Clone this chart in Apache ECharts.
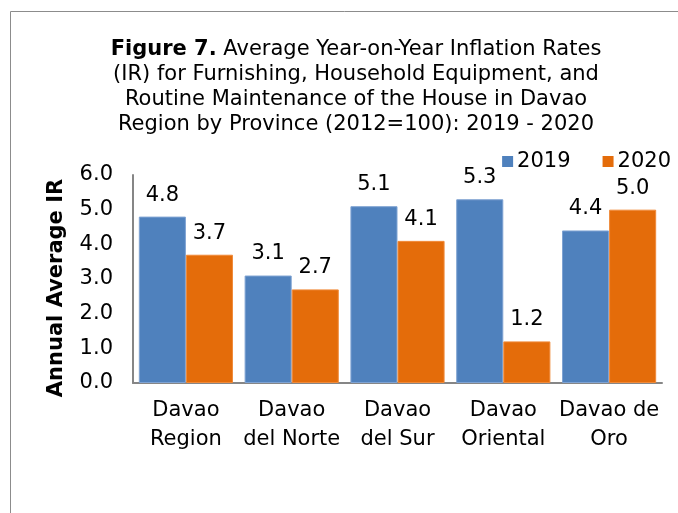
<!DOCTYPE html>
<html>
<head>
<meta charset="utf-8">
<script src="https://cdn.jsdelivr.net/npm/echarts@6/dist/echarts.min.js"></script>
<style>
  html, body { margin: 0; padding: 0; background: #fff; }
  #chart { width: 678px; height: 513px; }
</style>
</head>
<body>
<div id="chart"></div>
<script>
var categories = ['Davao\nRegion', 'Davao\ndel Norte', 'Davao\ndel Sur', 'Davao\nOriental', 'Davao de\nOro'];
var values2019 = [4.8, 3.1, 5.1, 5.3, 4.4];
var values2020 = [3.7, 2.7, 4.1, 1.2, 5.0];
var seriesNames = ['2019', '2020'];

var FONT = '"DejaVu Sans", "Liberation Sans", sans-serif';
var chart = echarts.init(document.getElementById('chart'));

var labelStyle = {
  show: true,
  position: 'top',
  distance: 11,
  fontFamily: FONT,
  fontSize: 21,
  color: '#000',
  formatter: function (p) { return p.value.toFixed(1); }
};

var option = {
  animation: false,
  textStyle: { fontFamily: FONT },
  graphic: [{
    type: 'rect',
    shape: { x: 10.5, y: 11.5, width: 720, height: 560 },
    style: { fill: 'none', stroke: '#8c8c8c', lineWidth: 1 }
  }],
  title: {
    text: '{b|Figure 7.} Average Year-on-Year Inflation Rates\n(IR) for Furnishing, Household Equipment, and\nRoutine Maintenance of the House in Davao\nRegion by Province (2012=100): 2019 - 2020',
    left: 351,
    top: 32,
    textAlign: 'center',
    textStyle: {
      fontFamily: FONT,
      fontSize: 21,
      fontWeight: 'normal',
      color: '#000',
      lineHeight: 25,
      rich: {
        b: { fontFamily: FONT, fontSize: 21, fontWeight: 'bold', color: '#000', lineHeight: 25 }
      }
    }
  },
  legend: {
    data: seriesNames,
    right: 2,
    top: 146,
    itemWidth: 11,
    itemHeight: 11,
    itemGap: 32,
    icon: 'rect',
    itemStyle: { borderWidth: 0 },
    textStyle: { fontFamily: FONT, fontSize: 21, color: '#000', padding: [0, 0, 0, -1] }
  },
  grid: { left: 133, right: 16, top: 175, bottom: 130 },
  xAxis: {
    type: 'category',
    data: categories,
    axisLine: { lineStyle: { color: '#868686', width: 2 } },
    axisTick: { show: false },
    axisLabel: { fontFamily: FONT, fontSize: 21, color: '#000', lineHeight: 29, margin: 13, interval: 0 }
  },
  yAxis: {
    type: 'value',
    min: 0,
    max: 6,
    interval: 1,
    name: 'Annual Average IR',
    nameLocation: 'middle',
    nameGap: 66,
    nameTextStyle: { fontFamily: FONT, fontSize: 21, fontWeight: 'bold', color: '#000', padding: [0, 18, 0, 0] },
    axisLine: { show: true, lineStyle: { color: '#868686', width: 2 } },
    axisTick: { show: false },
    splitLine: { show: false },
    axisLabel: {
      fontFamily: FONT, fontSize: 21, color: '#000', margin: 20,
      formatter: function (v) { return v.toFixed(1); }
    }
  },
  series: [{
    name: seriesNames[0],
    type: 'bar',
    data: values2019,
    barGap: '0%',
    barCategoryGap: '11%',
    itemStyle: { color: '#4F81BD', borderColor: '#7FA3D3', borderWidth: 1 },
    label: labelStyle
  }, {
    name: seriesNames[1],
    type: 'bar',
    data: values2020,
    itemStyle: { color: '#E46C0A', borderColor: '#F08A3A', borderWidth: 1 },
    label: labelStyle
  }]
};

chart.setOption(option);
</script>
</body>
</html>
